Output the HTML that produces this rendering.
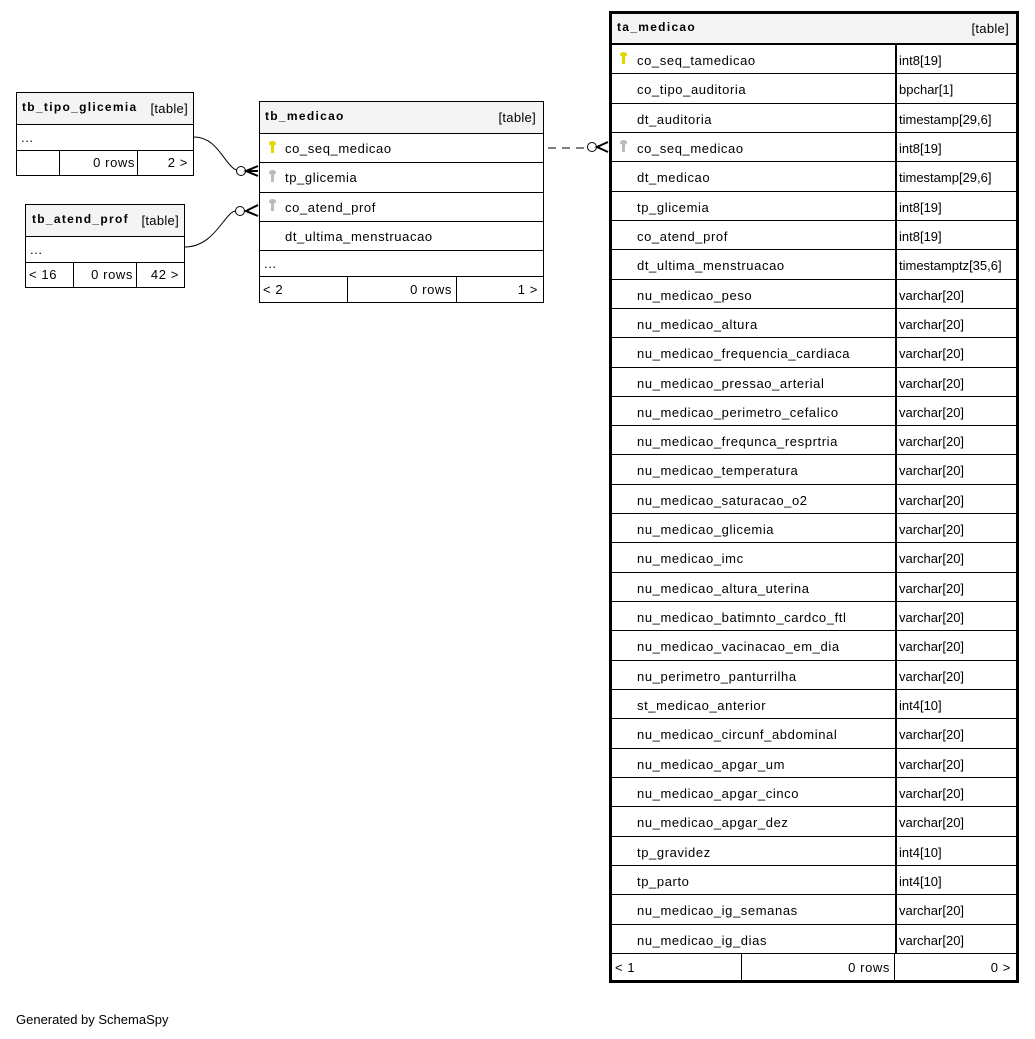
<!DOCTYPE html>
<html><head><meta charset="utf-8"><style>
body{margin:0;width:1035px;height:1039px;background:#fff;position:relative;font-family:"Liberation Sans",Arial,sans-serif;font-size:13px;color:#000;overflow:hidden;letter-spacing:0.6px}
.t{position:absolute;border:1px solid #000;box-sizing:border-box;background:#fff}
.c{position:absolute;box-sizing:border-box;border-bottom:1px solid #000;white-space:nowrap;line-height:1}
.h{background:#f4f4f4;font-weight:bold;font-size:12px;letter-spacing:1.3px}
.h span{letter-spacing:0.3px}
.a{position:absolute}
.k{position:absolute;width:3px;height:9px}
.k:before{content:"";position:absolute;left:-2px;top:-3px;width:7px;height:5px;border-radius:50%;background:inherit}
</style></head><body>
<svg width="1035" height="1039" style="position:absolute;left:0;top:0">
<path d="M194,137 C220,137 225,170 240,171" fill="none" stroke="#000"/>
<circle cx="241" cy="171" r="4.5" fill="#fff" stroke="#000"/>
<path d="M258,166 L246,171 L258,176 M258,171 L246,171" fill="none" stroke="#000" stroke-width="2"/>
<path d="M185,247 C215,247 225,211 236,211" fill="none" stroke="#000"/>
<circle cx="240" cy="211" r="4.5" fill="#fff" stroke="#000"/>
<path d="M258,205 L246,211 L258,216" fill="none" stroke="#000" stroke-width="2"/>
<path d="M548,148 L587,148" stroke="#000" stroke-dasharray="8,6"/>
<circle cx="592" cy="147" r="4.5" fill="#fff" stroke="#000"/>
<path d="M608,142 L597,147 L608,152" fill="none" stroke="#000" stroke-width="2"/>
</svg>

<div class="t" style="left:16px;top:92px;width:178px;height:84px">
<div class="c h" style="left:0;top:0;width:176px;height:32px;padding:8px 5px">tb_tipo_glicemia<span style="position:absolute;right:5px;top:9px;font-weight:normal;font-size:13px">[table]</span></div>
<div class="c" style="left:0;top:32px;width:176px;height:26px;padding:6px 4px">...</div>
<div class="c" style="left:0;top:58px;width:176px;height:24px;border:0">
<span class="a" style="left:42px;top:0;height:24px;border-left:1px solid #000"></span>
<span class="a" style="left:120px;top:0;height:24px;border-left:1px solid #000"></span>
<span class="a" style="right:58px;top:5px">0 rows</span><span class="a" style="right:5px;top:5px">2 &gt;</span></div>
</div>

<div class="t" style="left:25px;top:204px;width:160px;height:84px">
<div class="c h" style="left:0;top:0;width:158px;height:32px;padding:8px 6px">tb_atend_prof<span style="position:absolute;right:5px;top:9px;font-weight:normal;font-size:13px">[table]</span></div>
<div class="c" style="left:0;top:32px;width:158px;height:26px;padding:6px 4px">...</div>
<div class="c" style="left:0;top:58px;width:158px;height:24px;border:0">
<span class="a" style="left:47px;top:0;height:24px;border-left:1px solid #000"></span>
<span class="a" style="left:110px;top:0;height:24px;border-left:1px solid #000"></span>
<span class="a" style="left:3px;top:5px">&lt; 16</span>
<span class="a" style="right:51px;top:5px">0 rows</span><span class="a" style="right:5px;top:5px">42 &gt;</span></div>
</div>

<div class="t" style="left:259px;top:101px;width:285px;height:202px">
<div class="c h" style="left:0;top:0;width:283px;height:32px;padding:8px 5px">tb_medicao<span style="position:absolute;right:7px;top:9px;font-weight:normal;font-size:13px">[table]</span></div>
<div class="c" style="left:0;top:32px;width:283px;height:29px;padding:8px 25px">co_seq_medicao</div>
<div class="k" style="left:11px;top:42px;background:#e0d800"></div>
<div class="c" style="left:0;top:61px;width:283px;height:30px;padding:8px 25px">tp_glicemia</div>
<div class="k" style="left:11px;top:71px;background:#bbb"></div>
<div class="c" style="left:0;top:91px;width:283px;height:29px;padding:8px 25px">co_atend_prof</div>
<div class="k" style="left:11px;top:100px;background:#bbb"></div>
<div class="c" style="left:0;top:120px;width:283px;height:29px;padding:8px 25px">dt_ultima_menstruacao</div>
<div class="c" style="left:0;top:149px;width:283px;height:26px;padding:6px 4px">...</div>
<div class="c" style="left:0;top:175px;width:283px;height:25px;border:0">
<span class="a" style="left:87px;top:0;height:25px;border-left:1px solid #000"></span>
<span class="a" style="left:196px;top:0;height:25px;border-left:1px solid #000"></span>
<span class="a" style="left:3px;top:6px">&lt; 2</span>
<span class="a" style="right:91px;top:6px">0 rows</span><span class="a" style="right:5px;top:6px">1 &gt;</span></div>
</div>

<div class="t" id="ta" style="left:609px;top:11px;width:410px;height:972px;border-width:3px"></div>
<div style="position:absolute;left:612px;top:14px;width:404px">
<div class="c h" style="left:0;top:0;width:404px;height:30px;padding:7px 5px">ta_medicao<span style="position:absolute;right:7px;top:8px;font-weight:normal;font-size:13px">[table]</span></div>
</div>
<div id="rows"></div>
<script>
var r=[["co_seq_tamedicao","int8[19]"],["co_tipo_auditoria","bpchar[1]"],["dt_auditoria","timestamp[29,6]"],["co_seq_medicao","int8[19]"],["dt_medicao","timestamp[29,6]"],["tp_glicemia","int8[19]"],["co_atend_prof","int8[19]"],["dt_ultima_menstruacao","timestamptz[35,6]"],["nu_medicao_peso","varchar[20]"],["nu_medicao_altura","varchar[20]"],["nu_medicao_frequencia_cardiaca","varchar[20]"],["nu_medicao_pressao_arterial","varchar[20]"],["nu_medicao_perimetro_cefalico","varchar[20]"],["nu_medicao_frequnca_resprtria","varchar[20]"],["nu_medicao_temperatura","varchar[20]"],["nu_medicao_saturacao_o2","varchar[20]"],["nu_medicao_glicemia","varchar[20]"],["nu_medicao_imc","varchar[20]"],["nu_medicao_altura_uterina","varchar[20]"],["nu_medicao_batimnto_cardco_ftl","varchar[20]"],["nu_medicao_vacinacao_em_dia","varchar[20]"],["nu_perimetro_panturrilha","varchar[20]"],["st_medicao_anterior","int4[10]"],["nu_medicao_circunf_abdominal","varchar[20]"],["nu_medicao_apgar_um","varchar[20]"],["nu_medicao_apgar_cinco","varchar[20]"],["nu_medicao_apgar_dez","varchar[20]"],["tp_gravidez","int4[10]"],["tp_parto","int4[10]"],["nu_medicao_ig_semanas","varchar[20]"],["nu_medicao_ig_dias","varchar[20]"]];
var h="",top0=44,rh=29.32;
for(var i=0;i<r.length;i++){var y=Math.round(top0+i*rh),y2=Math.round(top0+(i+1)*rh);
h+='<div style="position:absolute;left:612px;top:'+y+'px;width:404px;height:'+(y2-y)+'px;border-top:1px solid #000;box-sizing:border-box"><span class="a" style="left:25px;top:8px">'+r[i][0]+'</span><span class="a" style="left:283px;top:0;height:100%;border-left:2px solid #000"></span><span class="a" style="left:287px;top:8px;letter-spacing:0">'+r[i][1]+'</span></div>';
if(i==0)h+='<div class="k" style="left:622px;top:'+(y+11)+'px;background:#e0d800"></div>';
if(i==3)h+='<div class="k" style="left:622px;top:'+(y+11)+'px;background:#bbb"></div>';}
var fy=Math.round(top0+r.length*rh);
h+='<div style="position:absolute;left:612px;top:'+fy+'px;width:404px;height:'+(980-fy)+'px;border-top:1px solid #000;box-sizing:border-box"><span class="a" style="left:3px;top:6px">&lt; 1</span><span class="a" style="left:129px;top:0;height:100%;border-left:1px solid #000"></span><span class="a" style="left:282px;top:0;height:100%;border-left:1px solid #000"></span><span class="a" style="right:126px;top:6px">0 rows</span><span class="a" style="right:5px;top:6px">0 &gt;</span></div>';
document.getElementById("rows").innerHTML=h;
</script>
<div class="a" style="left:16px;top:1012px;letter-spacing:0">Generated by SchemaSpy</div>
</body></html>
